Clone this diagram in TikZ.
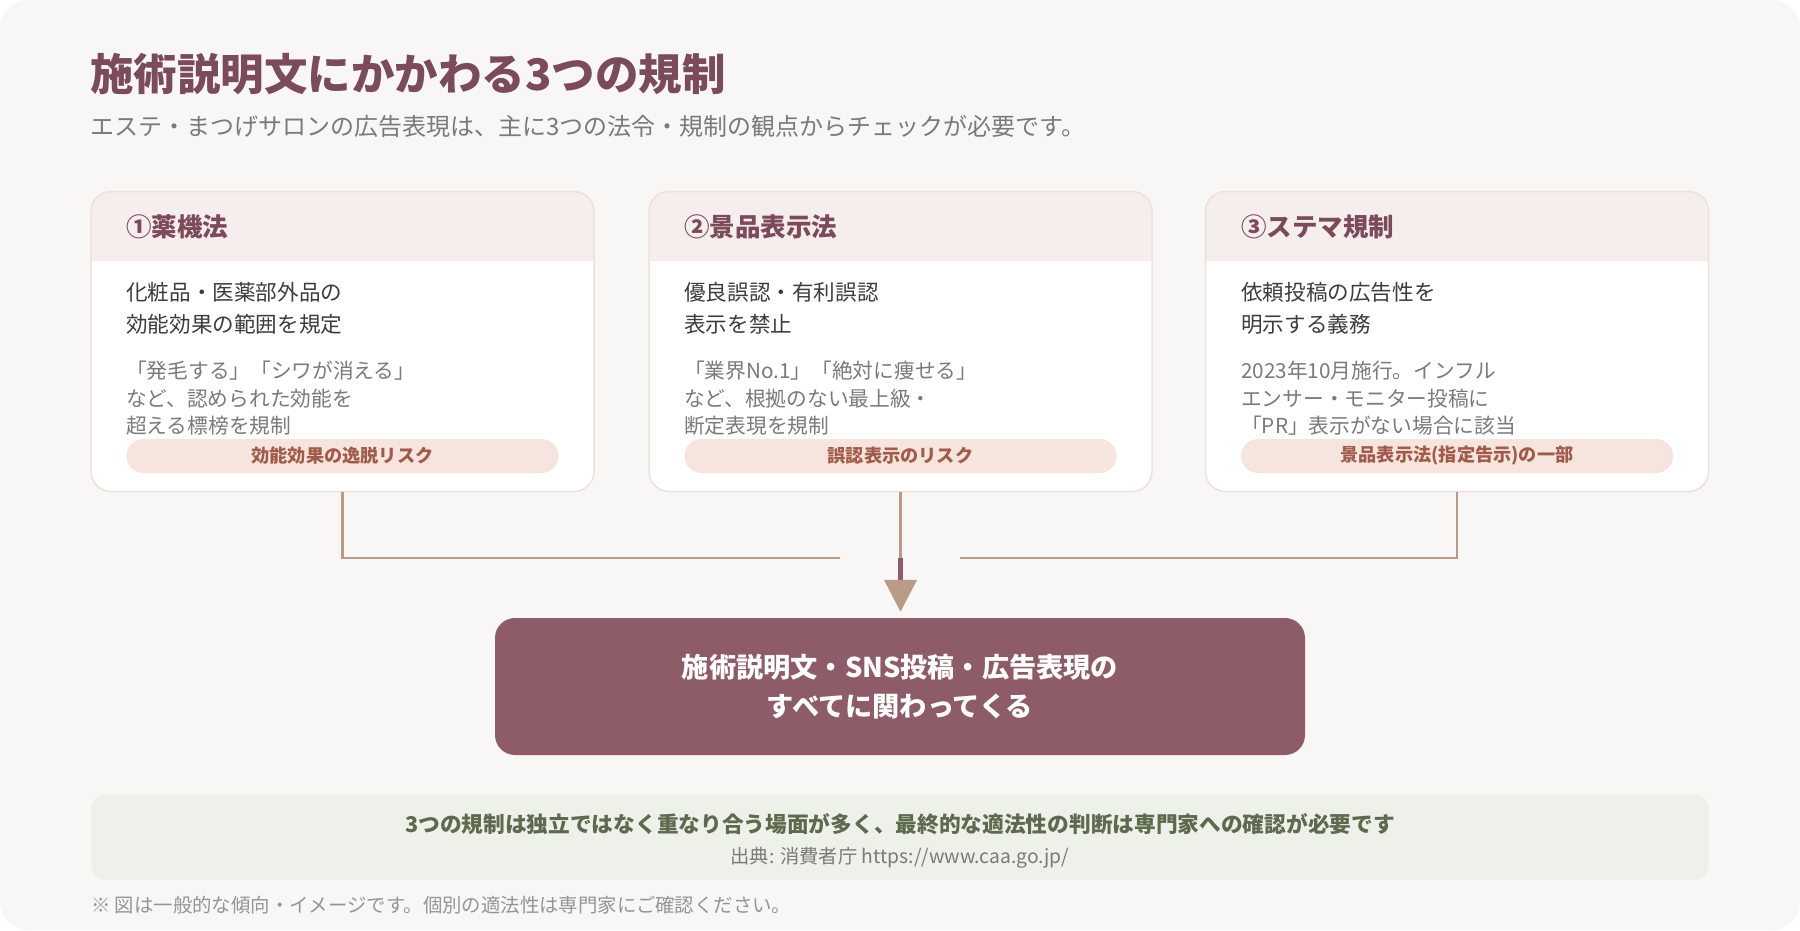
\documentclass[tikz,border=0pt]{standalone}
\usepackage{fontspec}
\setmainfont{Noto Sans CJK JP}
\usetikzlibrary{arrows.meta,positioning}
\definecolor{seibg}{HTML}{F8F7F5}
\definecolor{seiplum}{HTML}{7B4A5B}
\definecolor{seibox}{HTML}{8E5B68}
\definecolor{seitan}{HTML}{BA9B87}
\definecolor{seiline}{HTML}{ECE2DC}
\definecolor{seihead}{HTML}{F6EDED}
\definecolor{seipill}{HTML}{F6E5DE}
\definecolor{seirust}{HTML}{A15B4B}
\definecolor{seitext}{HTML}{3C3C3C}
\definecolor{seigray}{HTML}{7A7A7A}
\definecolor{seigreen}{HTML}{EEF1E9}
\definecolor{seimoss}{HTML}{5E6A4E}

\begin{document}
\begin{tikzpicture}[x=1pt,y=-1pt,
  card/.style={fill=white,rounded corners=20pt,minimum width=503pt,minimum height=300pt,inner sep=0pt,outer sep=0pt},
  head/.style={anchor=west,font=\fontsize{25.5}{28}\selectfont\bfseries,text=seiplum,inner sep=0pt},
  body/.style={anchor=west,align=left,font=\fontsize{21.6}{32}\selectfont,text=seitext,inner sep=0pt},
  note/.style={anchor=west,align=left,font=\fontsize{20.7}{27.5}\selectfont,text=seigray,inner sep=0pt},
  pill/.style={fill=seipill,rounded corners=17pt,minimum width=432pt,minimum height=34pt,inner sep=0pt,font=\fontsize{18.2}{20}\selectfont\bfseries,text=seirust},
  link/.style={draw=seitan,line width=2.5pt},
  every node/.style={inner sep=0pt}]
  % background
  \fill[white] (0,0) rectangle (1800,930);
  \fill[seibg,rounded corners=28pt] (0,0) rectangle (1800,930);
  % heading
  \node[anchor=west,font=\fontsize{43.5}{46}\selectfont\bfseries,text=seiplum] (title) at (90,74) {施術説明文にかかわる3つの規制};
  \node[anchor=west,font=\fontsize{24}{28}\selectfont,text=seigray] (sub) at (90,126) {エステ・まつげサロンの広告表現は、主に3つの法令・規制の観点からチェックが必要です。};
  % three cards
  \node[card] (c1) at (342.5,341.5) {};
  \node[card] (c2) at (900.5,341.5) {};
  \node[card] (c3) at (1457,341.5) {};
  \foreach \c in {c1,c2,c3} {
    \begin{scope}
      \clip[rounded corners=20pt] (\c.north west) rectangle (\c.south east);
      \fill[seihead] (\c.north west) rectangle ([yshift=-69pt]\c.north east);
    \end{scope}
    \draw[seiline,line width=1.5pt,rounded corners=20pt] (\c.north west) rectangle (\c.south east);
  }
  \node[head] (h1) at (126,227) {①薬機法};
  \node[body] (b1) at (126,308) {化粧品・医薬部外品の\\効能効果の範囲を規定};
  \node[note] (n1) at (126,398.5) {「発毛する」「シワが消える」\\など、認められた効能を\\超える標榜を規制};
  \node[pill] (p1) at (342.5,456) {効能効果の逸脱リスク};
  \node[head] (h2) at (684,227) {②景品表示法};
  \node[body] (b2) at (684,308) {優良誤認・有利誤認\\表示を禁止};
  \node[note] (n2) at (684,398.5) {「業界No.1」「絶対に痩せる」\\など、根拠のない最上級・\\断定表現を規制};
  \node[pill] (p2) at (900.5,456) {誤認表示のリスク};
  \node[head] (h3) at (1241,227) {③ステマ規制};
  \node[body] (b3) at (1241,308) {依頼投稿の広告性を\\明示する義務};
  \node[note] (n3) at (1241,398.5) {2023年10月施行。インフル\\エンサー・モニター投稿に\\「PR」表示がない場合に該当};
  \node[pill] (p3) at (1457,456) {景品表示法(指定告示)の一部};
  % target box
  \node[fill=seibox,rounded corners=20pt,minimum width=810pt,minimum height=137pt,
    text=white,align=center,font=\fontsize{27.2}{39}\selectfont\bfseries] (goal) at (900,686.5)
    {施術説明文・SNS投稿・広告表現の\\すべてに関わってくる};
  % connectors
  \coordinate (jl) at (840,558);
  \coordinate (jc) at (900.5,558);
  \coordinate (jr) at (960,558);
  \draw[link] (c1.south) |- (jl);
  \draw[link] (c3.south) |- (jr);
  \draw[link] (c2.south) -- (jc);
  \draw[seibox,line width=4.5pt,shorten >=6pt,-{Triangle[width=32pt,length=32pt,color=seitan]}] (jc) -- (goal.north -| jc);
  % summary
  \node[fill=seigreen,rounded corners=16pt,minimum width=1618pt,minimum height=86pt] (sum) at (900,837) {};
  \node[font=\fontsize{21.7}{24}\selectfont\bfseries,text=seimoss] (s1) at (900,824) {3つの規制は独立ではなく重なり合う場面が多く、最終的な適法性の判断は専門家への確認が必要です};
  \node[font=\fontsize{19.3}{22}\selectfont,text=seigray] (s2) at (900,858) {出典: 消費者庁 https://www.caa.go.jp/};
  \node[anchor=west,font=\fontsize{19.4}{22}\selectfont,text=seigray!80] (fn) at (91,905) {※ 図は一般的な傾向・イメージです。個別の適法性は専門家にご確認ください。};
\end{tikzpicture}
\end{document}
